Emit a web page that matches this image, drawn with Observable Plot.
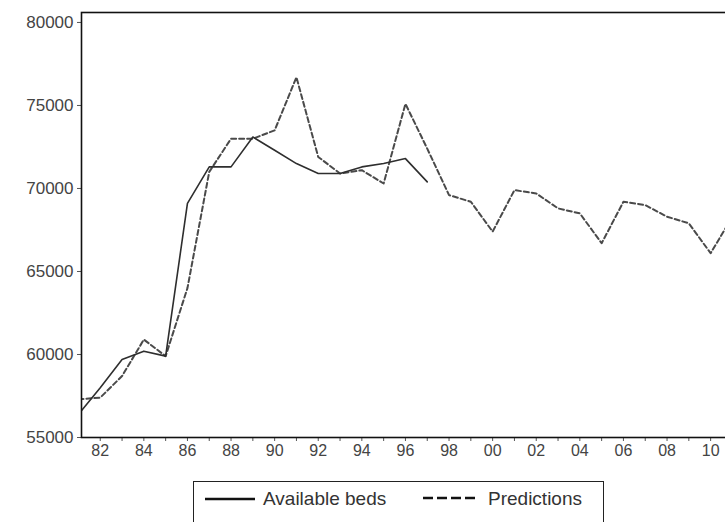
<!DOCTYPE html>
<html>
<head>
<meta charset="utf-8">
<script src="https://cdn.jsdelivr.net/npm/d3@7"></script>
<script src="https://cdn.jsdelivr.net/npm/@observablehq/plot@0.6"></script>
<style>
  html, body { margin: 0; padding: 0; background: #fff; overflow: hidden; width: 725px; height: 522px; }
  #wrap { position: relative; width: 725px; height: 522px; overflow: hidden; }
  #chart { position: absolute; left: 0; top: 0; width: 745px; }
  #chart svg { max-width: none !important; }
  #legend { position: absolute; left: 193px; top: 481px; width: 411px; height: 60px;
    border: 1.5px solid #222; box-sizing: border-box; font-family: "Liberation Sans", Arial, sans-serif;
    font-size: 19px; color: #333; }
  #legend .item { position: absolute; top: 6px; display: flex; align-items: center; }
  #legend svg { margin-right: 8px; }
</style>
</head>
<body>
<div id="wrap">
  <div id="chart"></div>
  <div id="legend"></div>
</div>
<script>
// Available beds (solid), 1981-1997
const bedYears = [1981,1982,1983,1984,1985,1986,1987,1988,1989,1990,1991,1992,1993,1994,1995,1996,1997];
const bedValues = [56400,58000,59700,60200,59900,69100,71300,71300,73100,72300,71500,70900,70900,71300,71500,71800,70400];

// Predictions (dashed), 1981-2011
const predYears = [1981,1982,1983,1984,1985,1986,1987,1988,1989,1990,1991,1992,1993,1994,1995,1996,1997,1998,1999,2000,2001,2002,2003,2004,2005,2006,2007,2008,2009,2010,2011];
const predValues = [57300,57400,58700,60900,59900,64000,71000,73000,73000,73500,76700,71900,70900,71100,70300,75100,72400,69600,69200,67400,69900,69700,68800,68500,66700,69200,69000,68300,67900,66100,68300];

// Axis ticks
const yTicks = [55000,60000,65000,70000,75000,80000];
const xTickYears = [1982,1983,1984,1985,1986,1987,1988,1989,1990,1991,1992,1993,1994,1995,1996,1997,1998,1999,2000,2001,2002,2003,2004,2005,2006,2007,2008,2009,2010];
const xLabelYears = [1982,1984,1986,1988,1990,1992,1994,1996,1998,2000,2002,2004,2006,2008,2010];
const xLabels = ["82","84","86","88","90","92","94","96","98","00","02","04","06","08","10"];

const seriesNames = ["Available beds", "Predictions"];

const beds = bedYears.map((y, i) => ({year: y, value: bedValues[i]}));
const preds = predYears.map((y, i) => ({year: y, value: predValues[i]}));
const labelMap = new Map(xLabelYears.map((y, i) => [y, xLabels[i]]));

const chart = Plot.plot({
  width: 745,
  height: 470,
  marginLeft: 81,
  marginRight: 5,
  marginTop: 12,
  marginBottom: 33,
  style: {fontFamily: "Liberation Sans, Arial, sans-serif", color: "#444", background: "#fff", maxWidth: "none"},
  x: {domain: [1981.14, 2011.37]},
  y: {domain: [55000, 80600]},
  marks: [
    Plot.axisY({ticks: yTicks, tickSize: 4, tickPadding: 4, fontSize: 17, tickFormat: d => String(d), label: null, stroke: "#555"}),
    Plot.axisX({ticks: xTickYears, tickSize: 4, tickPadding: 3, fontSize: 16, tickFormat: d => labelMap.get(d) ?? "", label: null, stroke: "#555"}),
    Plot.line(preds, {x: "year", y: "value", stroke: "#4a4a4a", strokeWidth: 2, strokeDasharray: "5,3", clip: true}),
    Plot.line(beds, {x: "year", y: "value", stroke: "#2e2e2e", strokeWidth: 1.6, clip: true}),
    Plot.frame({stroke: "#111", strokeWidth: 1.6})
  ]
});
document.getElementById("chart").appendChild(chart);

const legend = document.getElementById("legend");
legend.innerHTML = `
  <div class="item" style="left:11px"><svg width="50" height="10"><line x1="0" x2="50" y1="5" y2="5" stroke="#111" stroke-width="2.5"/></svg><span>${seriesNames[0]}</span></div>
  <div class="item" style="left:228px"><svg width="54" height="10"><line x1="1" x2="54" y1="4" y2="4" stroke="#111" stroke-width="2.5" stroke-dasharray="10,4"/></svg><span style="margin-left:4px">${seriesNames[1]}</span></div>
`;
</script>
</body>
</html>
